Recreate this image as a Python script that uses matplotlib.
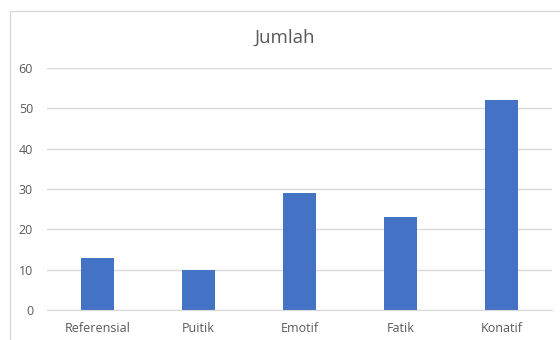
import matplotlib
matplotlib.use("Agg")
import matplotlib.pyplot as plt
from matplotlib.patches import Rectangle

categories = ["Referensial", "Puitik", "Emotif", "Fatik", "Konatif"]
values = [13, 10, 29, 23, 52]
yticks = [0, 10, 20, 30, 40, 50, 60]
title = "Jumlah"

plt.rcParams['font.family'] = ['Open Sans', 'DejaVu Sans']
txt = "#595959"

fig = plt.figure(figsize=(5.6, 3.4), dpi=100)
fig.patch.set_facecolor("white")
fig.patches.append(Rectangle((9.5/560, -0.1), 1.2, (1 - 10.5/340) + 0.1,
                             transform=fig.transFigure, fill=False,
                             edgecolor="#D9D9D9", linewidth=1.0))

ax = fig.add_axes([47/560, 1 - 310/340, 505/560, (310 - 68)/340])
x = list(range(len(categories)))
ax.bar(x, values, width=0.32, color="#4472C4", zorder=3)
ax.set_xlim(-0.5, len(categories) - 0.5)
ax.set_ylim(0, 60)
ax.set_yticks(yticks)
ax.set_xticks(x)
ax.set_xticklabels(categories)
ax.grid(axis="y", color="#D9D9D9", linewidth=1.0, zorder=0)
for s in ["top", "right", "left"]:
    ax.spines[s].set_visible(False)
ax.spines["bottom"].set_color("#D9D9D9")
ax.spines["bottom"].set_zorder(4)
ax.tick_params(axis="both", length=0, colors=txt, labelsize=9)
ax.tick_params(axis="y", pad=10)
ax.tick_params(axis="x", pad=9)
fig.text(0.5 + 9/560/2, 1 - 38/340, title, ha="center", va="center",
         fontsize=13.5, color=txt)

fig.savefig("out.png", dpi=100)
